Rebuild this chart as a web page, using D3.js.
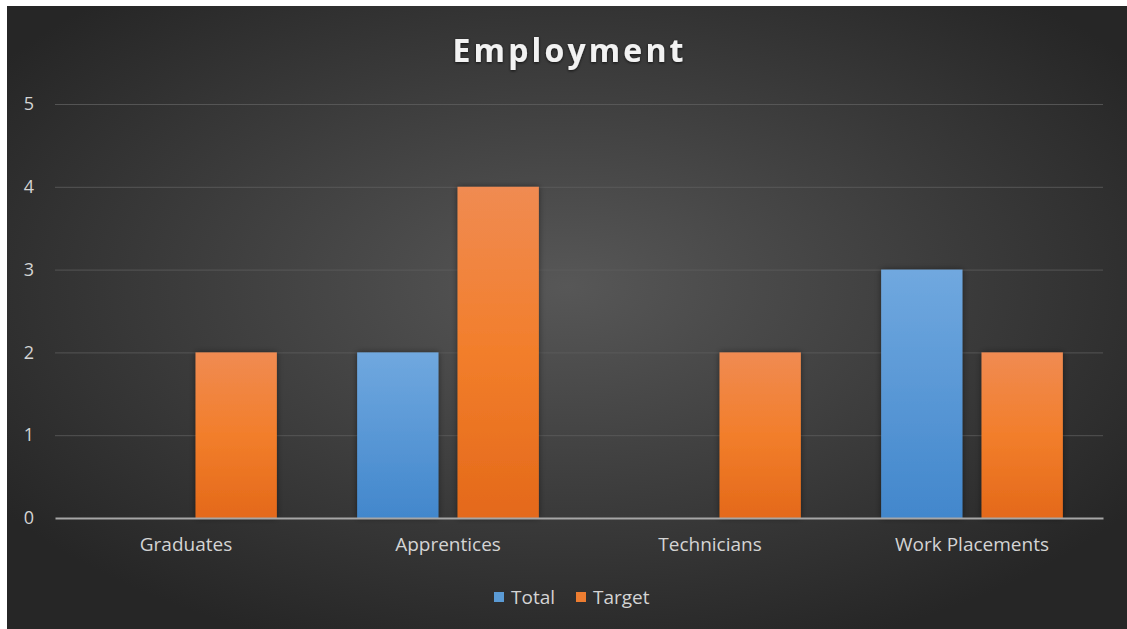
<!DOCTYPE html>
<html>
<head>
<meta charset="utf-8">
<script src="https://cdn.jsdelivr.net/npm/d3@7"></script>
<style>
  html, body { margin: 0; padding: 0; background: #ffffff; }
  svg { display: block; }
</style>
</head>
<body>
<script>
const categories = ["Graduates", "Apprentices", "Technicians", "Work Placements"];
const seriesNames = ["Total", "Target"];
const totalValues = [0, 2, 0, 3];
const targetValues = [2, 4, 2, 2];
const yTicks = [0, 1, 2, 3, 4, 5];
const chartTitle = "Employment";

const W = 1127, H = 629;
const svg = d3.select("body").append("svg").attr("width", W).attr("height", H);
const defs = svg.append("defs");

const bg = defs.append("radialGradient").attr("id", "bg")
  .attr("cx", "50%").attr("cy", "45%").attr("r", "62%");
bg.append("stop").attr("offset", "0%").attr("stop-color", "#575757");
bg.append("stop").attr("offset", "100%").attr("stop-color", "#262626");

const gBlue = defs.append("linearGradient").attr("id", "gBlue").attr("x1", 0).attr("y1", 0).attr("x2", 0).attr("y2", 1);
gBlue.append("stop").attr("offset", "0%").attr("stop-color", "#70a8df");
gBlue.append("stop").attr("offset", "100%").attr("stop-color", "#4287cc");
const gOrange = defs.append("linearGradient").attr("id", "gOrange").attr("x1", 0).attr("y1", 0).attr("x2", 0).attr("y2", 1);
gOrange.append("stop").attr("offset", "0%").attr("stop-color", "#f08b52");
gOrange.append("stop").attr("offset", "50%").attr("stop-color", "#f27e2b");
gOrange.append("stop").attr("offset", "100%").attr("stop-color", "#e4691a");

const shadow = defs.append("filter").attr("id", "shadow").attr("x", "-20%").attr("y", "-20%").attr("width", "140%").attr("height", "140%");
shadow.append("feDropShadow").attr("dx", 0).attr("dy", 0).attr("stdDeviation", 3).attr("flood-color", "#000").attr("flood-opacity", 0.45);
const tshadow = defs.append("filter").attr("id", "tshadow").attr("x", "-10%").attr("y", "-30%").attr("width", "120%").attr("height", "160%");
tshadow.append("feDropShadow").attr("dx", 0).attr("dy", 1).attr("stdDeviation", 1.5).attr("flood-color", "#000").attr("flood-opacity", 0.7);

svg.append("rect").attr("x", 7).attr("y", 6).attr("width", W - 7).attr("height", H - 6).attr("fill", "url(#bg)");

const plotLeft = 55, plotRight = 1103, plotTop = 104, plotBottom = 518;
const x = d3.scaleBand().domain(categories).range([plotLeft, plotRight]).paddingInner(0).paddingOuter(0);
const xs = d3.scaleBand().domain(seriesNames).range([0, x.bandwidth()]).paddingInner(0.19).paddingOuter(0.4);
const y = d3.scaleLinear().domain([0, 5]).range([plotBottom, plotTop]);

// gridlines
const grid = svg.append("g").attr("transform", `translate(${plotLeft},0)`)
  .call(d3.axisLeft(y).tickValues(yTicks.filter(d => d > 0)).tickSize(-(plotRight - plotLeft)).tickFormat(""));
grid.select(".domain").remove();
grid.selectAll("line").attr("stroke", "#5e5e5e").attr("stroke-width", 1).attr("stroke-opacity", 0.8);

// y tick labels
const yAxis = svg.append("g").attr("transform", `translate(${plotLeft},0)`)
  .call(d3.axisLeft(y).tickValues(yTicks).tickSize(0).tickPadding(21).tickFormat(d3.format("d")));
yAxis.select(".domain").remove();
yAxis.selectAll("text").attr("fill", "#d4d4d4").style("font-family", "'Open Sans', sans-serif").style("font-size", "18px");

// bars
const seriesData = [
  { name: "Total", values: totalValues, fill: "url(#gBlue)" },
  { name: "Target", values: targetValues, fill: "url(#gOrange)" }
];
const barsG = svg.append("g");
seriesData.forEach(s => {
  barsG.selectAll(null).data(categories.map((c, i) => ({ c, v: s.values[i] })).filter(d => d.v > 0))
    .enter().append("rect")
    .attr("x", d => x(d.c) + xs(s.name))
    .attr("y", d => y(d.v))
    .attr("width", xs.bandwidth())
    .attr("height", d => y(0) - y(d.v))
    .attr("fill", s.fill)
    .attr("filter", "url(#shadow)");
});

// x axis
const xAxis = svg.append("g").attr("transform", `translate(0,${plotBottom})`)
  .call(d3.axisBottom(x).tickSize(0).tickPadding(20));
xAxis.select(".domain").attr("stroke", "#a6a6a6").attr("stroke-width", 2);
xAxis.selectAll("text").attr("fill", "#d4d4d4").style("font-family", "'Open Sans', sans-serif").style("font-size", "19px");

// title
svg.append("text").attr("x", 568).attr("y", 62).attr("text-anchor", "middle")
  .attr("fill", "#f2f2f2").attr("font-family", "'Open Sans', sans-serif").attr("font-weight", "bold")
  .attr("font-size", 32).attr("textLength", 231).attr("lengthAdjust", "spacing")
  .attr("filter", "url(#tshadow)")
  .text(chartTitle);

// legend
const legend = svg.append("g").attr("transform", "translate(494,592)");
const legendItems = [
  { name: seriesNames[0], color: "#5b9bd5", dx: 0 },
  { name: seriesNames[1], color: "#ed7d31", dx: 82 }
];
legendItems.forEach(it => {
  const g = legend.append("g").attr("transform", `translate(${it.dx},0)`);
  g.append("rect").attr("width", 10).attr("height", 10).attr("fill", it.color);
  g.append("text").attr("x", 17).attr("y", 11.5).attr("fill", "#d4d4d4")
    .attr("font-family", "'Open Sans', sans-serif").attr("font-size", 19).text(it.name);
});
</script>
</body>
</html>
